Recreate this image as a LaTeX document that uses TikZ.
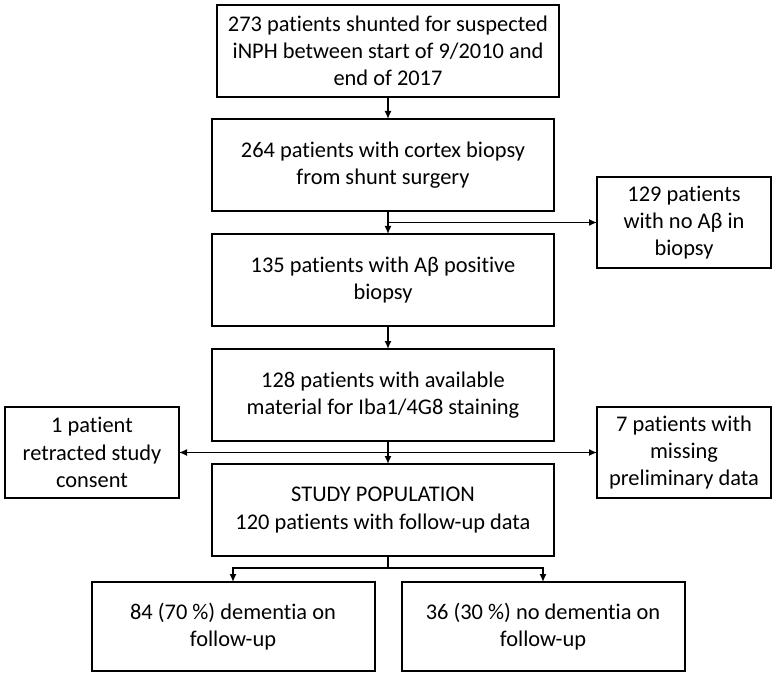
\documentclass[tikz,border=0pt]{standalone}
\usepackage{fontspec}
\setmainfont{Carlito}[Ligatures=NoCommon]
\usepackage{tikz}
\usetikzlibrary{positioning}
\usetikzlibrary{arrows.meta}

\begin{document}
\begin{tikzpicture}
	[x=1pt, y=1pt, node distance={23pt}, >={Latex[length=8pt,width=7pt]},
	main/.style = {draw, line width=2pt, outer sep=0pt, align=center, minimum width=342pt, minimum height=92pt, font=\fontsize{22.4}{27.3}\selectfont},
	side/.style = {main, minimum width=174pt, minimum height=91pt},
	outcome/.style = {main, minimum width=283pt, minimum height=89pt},
	link/.style = {line width=1.5pt}]
	\useasboundingbox (0,0) rectangle (776,-676);
	\node[main] (shunted) at (388,-51) {273 patients shunted for suspected\\iNPH between start of 9/2010 and\\end of 2017};
	\node[main] (biopsy) [below = 22pt of shunted, xshift=-5pt] {264 patients with cortex biopsy\\from shunt surgery};
	\node[main] (positive) [below = of biopsy] {135 patients with Aβ positive\\biopsy};
	\node[main] (material) [below = of positive] {128 patients with available\\material for Iba1/4G8 staining};
	\node[main] (study) [below = of material] {STUDY POPULATION\\120 patients with follow-up data};
	% split points on the spine
	\path (shunted.south |- biopsy.south) ++(0,-11.5) coordinate (split1);
	\path (shunted.south |- material.south) ++(0,-11.5) coordinate (split2);
	\path (shunted.south |- study.south) ++(0,-12) coordinate (split3);
	\node[side] (noab) [right = 209pt of split1] {129 patients\\with no Aβ in\\biopsy};
	\node[side] (retracted) [left = 209pt of split2] {1 patient\\retracted study\\consent};
	\node[side] (missing) [right = 209pt of split2] {7 patients with\\missing\\preliminary data};
	\node[outcome] (dementia) [below = 26pt of study, xshift=-150pt] {84 (70 \%) dementia on\\follow-up};
	\node[outcome] (nodementia) [below = 26pt of study, xshift=160pt] {36 (30 \%) no dementia on\\follow-up};
	\draw[link, ->] (shunted.south) -- (shunted.south |- biopsy.north);
	\draw[link, ->] (shunted.south |- biopsy.south) -- (shunted.south |- positive.north);
	\draw[link, ->] (split1) -- (noab);
	\draw[link, ->] (shunted.south |- positive.south) -- (shunted.south |- material.north);
	\draw[link, ->] (shunted.south |- material.south) -- (shunted.south |- study.north);
	\draw[link, <->] (retracted) -- (missing);
	\draw[link] (shunted.south |- study.south) -- (split3);
	\draw[link, ->] (split3) -| (dementia);
	\draw[link, ->] (split3) -| (nodementia);
\end{tikzpicture}
\end{document}
